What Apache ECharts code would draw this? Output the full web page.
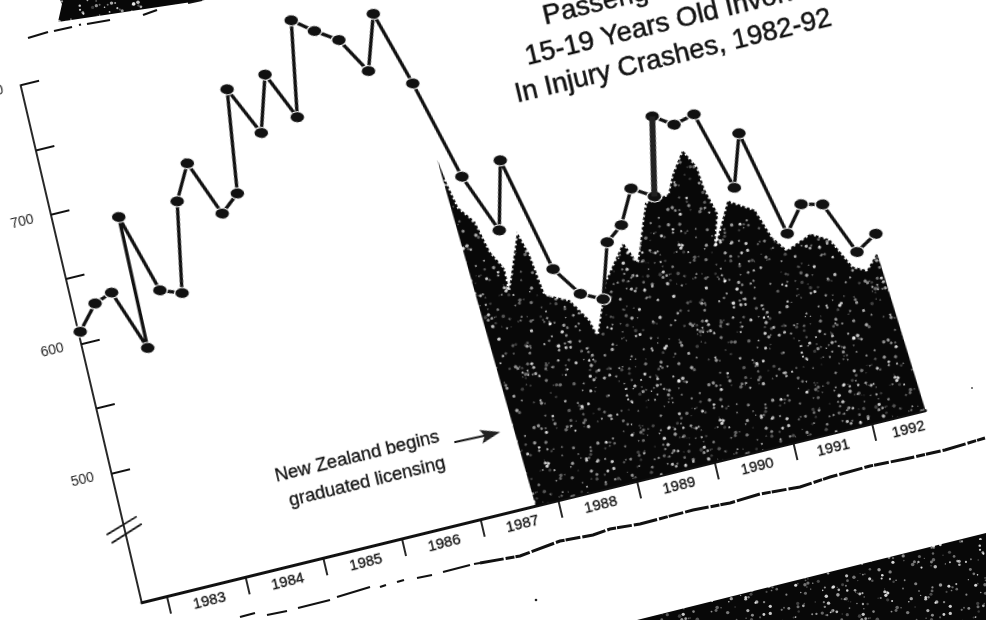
<!DOCTYPE html>
<html>
<head>
<meta charset="utf-8">
<script src="https://cdn.jsdelivr.net/npm/echarts@6/dist/echarts.min.js"></script>
<style>
html,body{margin:0;padding:0;width:986px;height:620px;overflow:hidden;background:#fff}
#scan{position:absolute;left:0;top:0;width:986px;height:620px;filter:blur(.5px)}
#chart{position:absolute;left:0;top:0;width:1100px;height:800px;transform-origin:0 0;
  transform:matrix(.971,-.238,.228,.974,-99.3,11.7);filter:blur(.5px)}
</style>
</head>
<body>
<div id="scan"></div>
<div id="chart"></div>
<script>
// Rate line
const rateYears = [1982.70,1982.96,1983.19,1983.47,1983.49,1983.78,1984.04,1984.24,1984.47,1984.75,1984.99,
  1985.16,1985.45,1985.66,1985.93,1986.13,1986.38,1986.65,1986.92,1987.14,1987.42,1987.75,1988.05,1988.26,
  1988.59,1988.85,1989.11,1989.32,1989.54,1989.76,1990.02,1990.22,1990.46,1990.73,1991.01,1991.22,1991.52,
  1991.77,1992.03,1992.31,1992.59];
const rateValues = [609,627,632,585,686,625,619,687,713,670,682,
  760,722,764,727,799,787,776,748,789,731,654,608,659,
  570,547,539,580,590,615,605,664,654,658,597,636,554,
  573,569,528,538];
// Dark shaded region outline, from graduated licensing onward
const shadeYears = [1987.71,1987.50,1987.54,1987.62,1987.78,1987.88,1988.01,1988.00,1988.26,1988.35,1988.42,
  1988.71,1988.89,1988.94,1989.18,1989.51,1989.63,1989.89,1990.19,1990.30,1990.49,1990.62,1990.65,1990.74,
  1990.61,1990.89,1991.20,1991.33,1991.47,1991.80,1992.02,1992.22,1992.38,1992.55,1992.69];
const shadeValues = [400,671,655,632,619,594,579,563,604,585,553,
  544,526,514,551,577,560,602,604,618,634,619,601,581,
  557,589,577,554,542,550,542,518,513,524,400];
const yearTicks = [1983,1984,1985,1986,1987,1988,1989,1990,1991,1992];
const yearLabelPos = [1983.5,1984.5,1985.5,1986.5,1987.5,1988.5,1989.5,1990.5,1991.47,1992.43];
const yTicks = [500,550,600,650,700,750,800];
const yLabels = [500,600,700,800];
const titleLines = ['Passengers','15-19 Years Old Involved','In Injury Crashes, 1982-92'];
const noteLines = ['New Zealand begins','graduated licensing'];
const thickSegment = [30,31]; // the heavily printed rise, 1990

// Printed halftone texture of the scan
function halftone(){
  const c=document.createElement('canvas');c.width=c.height=180;
  const g=c.getContext('2d');g.fillStyle='#080808';g.fillRect(0,0,180,180);
  let s=12345;
  const next=()=>{s=(s*1103515245+12345)&0x7fffffff;return s/0x7fffffff;};
  for(let i=0;i<480;i++){
    const x=next()*180,y=next()*180,a=next(),r=.6+next()*1.2;
    g.fillStyle='rgba(255,255,255,'+(.2+a*.65).toFixed(2)+')';
    g.beginPath();g.arc(x,y,r,0,7);g.fill();
  }
  return c;
}
const pattern={image:halftone(),repeat:'repeat'};
const FONT='"Liberation Sans", Arial, sans-serif';

const scan=echarts.init(document.getElementById('scan'));
const ragged=[[480,563],[520,556],[560,541],[593,535],[610,529],[640,524],[693,510],[730,503],[760,494],[800,487],
  [830,477],[870,466],[905,459],[945,450],[985,438]];
const dashes=[[[28,38],[48,32]],[[54,31],[72,27]],[[79,25],[81,24.5]],[[87,24],[110,20]],[[143,15],[157,10]],[[188,3],[202,0]],
  [[240,617],[255,613]],[[267,615],[287,611]],[[298,608],[330,600]],[[337,597],[370,587]],[[380,587],[386,585]],
  [[397,582],[404,580]],[[417,578],[432,575]],[[443,572],[470,565]],[[474,564],[480,563]]];
scan.setOption({animation:false,graphic:[
  {type:'polygon',shape:{points:[[58,22],[62,4],[60,0],[205,0]]},style:{fill:pattern}},
  {type:'polygon',shape:{points:[[637,620],[986,533],[986,620]]},style:{fill:pattern}},
  {type:'polyline',shape:{points:ragged},style:{stroke:'#111',lineWidth:3,fill:null,lineDash:[24,2,9,1,15,2]}},
  ...dashes.map(d=>({type:'line',shape:{x1:d[0][0],y1:d[0][1],x2:d[1][0],y2:d[1][1]},style:{stroke:'#111',lineWidth:2.2}})),
  {type:'circle',shape:{cx:536,cy:600,r:1.3},style:{fill:'#222'}},
  {type:'circle',shape:{cx:972,cy:388,r:1},style:{fill:'#555'}}
]});

const chart=echarts.init(document.getElementById('chart'));
const lineSty=w=>({stroke:'#111',lineWidth:w});
const heavy=(size,y,x,i)=>({type:'text',x,y,style:{text:titleLines[i],font:size+'px '+FONT,fill:'#111',stroke:'#111',lineWidth:.5,textVerticalAlign:'bottom'}});
const shadePoints=shadeYears.map((x,i)=>[x,shadeValues[i]]);
chart.setOption({
  animation:false,
  backgroundColor:'transparent',
  grid:{left:100,top:100,width:807,height:531,containLabel:false},
  xAxis:{type:'value',min:1982.677,max:1992.69,splitLine:{show:false},
    axisLine:{show:true,onZero:false,lineStyle:{color:'#111',width:2.8}},
    axisTick:{show:true,length:18,customValues:yearTicks,lineStyle:{color:'#111',width:1.8}},
    axisLabel:{show:true,customValues:yearLabelPos,margin:7,color:'#111',fontFamily:FONT,fontSize:15,
      textBorderColor:'#111',textBorderWidth:.3,formatter:v=>String(Math.floor(v))}},
  yAxis:{type:'value',min:400,max:800,splitLine:{show:false},
    axisLine:{show:true,onZero:false,lineStyle:{color:'#111',width:1.8}},
    axisTick:{show:true,inside:true,length:19,customValues:yTicks,lineStyle:{color:'#111',width:2}},
    axisLabel:{show:true,customValues:yLabels,margin:18,color:'#222',fontFamily:FONT,fontSize:14}},
  series:[
    {name:'shade',type:'line',z:1,symbol:'none',silent:true,lineStyle:{width:0},
      areaStyle:{color:pattern,opacity:1,origin:'start'},
      data:shadePoints},
    {name:'shade edge',type:'line',z:2,symbol:'none',silent:true,
      lineStyle:{color:'#fff',width:3,type:[2,3]},
      data:shadePoints.slice(2,-1)},
    {name:'rate',type:'line',z:3,symbol:'circle',symbolSize:[15,11],symbolRotate:-14,
      lineStyle:{color:'#111',width:3.4},
      itemStyle:{color:'#111',borderColor:'#fff',borderWidth:1.2},
      data:rateYears.map((x,i)=>[x,rateValues[i]])},
    {name:'rate heavy',type:'line',z:4,symbol:'none',silent:true,lineStyle:{color:'#222',width:6},
      data:thickSegment.map(i=>[rateYears[i],rateValues[i]])}
  ],
  graphic:[
    heavy(27.6,172,624.5,0),
    heavy(27.6,207,598,1),
    heavy(27.6,241,579.4,2),
    {type:'text',x:343,y:541,style:{text:noteLines[0],font:'18.5px '+FONT,fill:'#111',stroke:'#111',lineWidth:.3,textAlign:'center',textVerticalAlign:'middle'}},
    {type:'text',x:347,y:567.6,style:{text:noteLines[1],font:'18.5px '+FONT,fill:'#111',stroke:'#111',lineWidth:.3,textAlign:'center',textVerticalAlign:'middle'}},
    {type:'line',shape:{x1:441,y1:550,x2:478,y2:551},style:lineSty(2.2)},
    {type:'polygon',shape:{points:[[488,551],[468,544],[472,551],[468,558]]},style:{fill:'#222'}},
    {type:'line',shape:{x1:81.3,y1:557.2,x2:114.7,y2:546.5},style:lineSty(1.8)},
    {type:'line',shape:{x1:84.3,y1:566.4,x2:117.9,y2:554.8},style:lineSty(1.8)}
  ]
});
</script>
</body>
</html>
